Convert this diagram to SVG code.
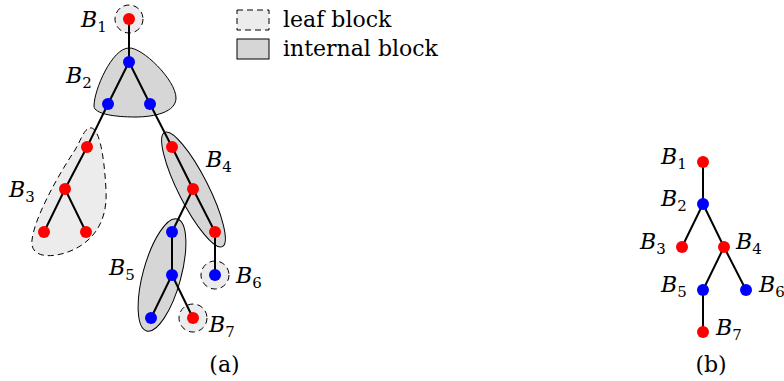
<svg xmlns="http://www.w3.org/2000/svg" width="784" height="381" viewBox="0 0 784 381">
<style>
.leaf{fill:#ececec;stroke:#000;stroke-width:1;stroke-dasharray:6,4}
.int{fill:#d6d6d6;stroke:#000;stroke-width:1}
.e{stroke:#000;stroke-width:2;fill:none}
.r{fill:#ff0000}
.b{fill:#0000ff}
text{font-family:"DejaVu Serif","Liberation Serif",serif;fill:#000}
.lab{font-style:italic;font-size:22px}
.sub{font-style:normal;font-size:15px}
.txt{font-size:22px}
</style>
<rect width="784" height="381" fill="#fff"/>
<g id="legend">
<rect class="leaf" x="237" y="10" width="32" height="20"/>
<text class="txt" x="283" y="27">leaf block</text>
<rect class="int" x="237" y="39" width="32" height="20"/>
<text class="txt" x="283" y="56">internal block</text>
</g>
<g id="blocks-a">
<circle id="blkB1" class="leaf" cx="129" cy="19" r="14"/>
<path id="blkB2" class="int" d="M 129 48 C 142 47, 176 80, 176 98 C 176 112, 155 117, 135 117 C 115 117, 94 114, 94 106 C 94 90, 112 48, 129 48 Z"/>
<path id="blkB3" class="leaf" d="M 90 128 C 98 126, 104 150, 106 190 C 108 225, 90 245, 65 253 C 45 259, 30 255, 32 240 C 34 220, 55 180, 75 150 C 82 138, 84 129, 90 128 Z"/>
<ellipse id="blkB4" class="int" cx="193.5" cy="189.5" rx="64" ry="15" transform="rotate(63.2 193.5 189.5)"/>
<ellipse id="blkB5" class="int" cx="162" cy="275" rx="58" ry="19" transform="rotate(105.3 162 275)"/>
<circle id="blkB6" class="leaf" cx="215" cy="275" r="14"/>
<circle id="blkB7" class="leaf" cx="193" cy="318" r="14"/>
</g>
<g id="connectors">
<path class="e" d="M129 19 L129 62 M129 62 L108 104 M129 62 L150 104 M108 104 L87 147 L65 189 L44 232 M65 189 L86 232 M150 104 L172 147 L193 189 L215 232 L215 275 M193 189 L172 232 L172 275 L151 318 M172 275 L193 318"/>
<path class="e" d="M703 162 L703 204 L682 247 M703 204 L724 247 L703 290 L703 332 M724 247 L746 290"/>
</g>
<g id="nodes-a">
<circle class="r" cx="129" cy="19" r="6"/>
<circle class="b" cx="129" cy="62" r="6"/>
<circle class="b" cx="108" cy="104" r="6"/>
<circle class="b" cx="150" cy="104" r="6"/>
<circle class="r" cx="87" cy="147" r="6"/>
<circle class="r" cx="65" cy="189" r="6"/>
<circle class="r" cx="44" cy="232" r="6"/>
<circle class="r" cx="86" cy="232" r="6"/>
<circle class="r" cx="172" cy="147" r="6"/>
<circle class="r" cx="193" cy="189" r="6"/>
<circle class="r" cx="215" cy="232" r="6"/>
<circle class="b" cx="215" cy="275" r="6"/>
<circle class="b" cx="172" cy="232" r="6"/>
<circle class="b" cx="172" cy="275" r="6"/>
<circle class="b" cx="151" cy="318" r="6"/>
<circle class="r" cx="193" cy="318" r="6"/>
</g>
<g id="labels-a">
<text class="lab" x="81" y="27">B<tspan class="sub" dy="5">1</tspan></text>
<text class="lab" x="66" y="83">B<tspan class="sub" dy="5">2</tspan></text>
<text class="lab" x="9" y="197">B<tspan class="sub" dy="5">3</tspan></text>
<text class="lab" x="206" y="167">B<tspan class="sub" dy="5">4</tspan></text>
<text class="lab" x="109" y="275">B<tspan class="sub" dy="5">5</tspan></text>
<text class="lab" x="236" y="283">B<tspan class="sub" dy="5">6</tspan></text>
<text class="lab" x="209" y="332">B<tspan class="sub" dy="5">7</tspan></text>
<text class="txt" x="224.5" y="372" text-anchor="middle">(a)</text>
</g>
<g id="nodes-b">
<circle id="b-B1" class="r" cx="703" cy="162" r="6"/>
<circle id="b-B2" class="b" cx="703" cy="204" r="6"/>
<circle id="b-B3" class="r" cx="682" cy="247" r="6"/>
<circle id="b-B4" class="r" cx="724" cy="247" r="6"/>
<circle id="b-B5" class="b" cx="703" cy="290" r="6"/>
<circle id="b-B6" class="b" cx="746" cy="290" r="6"/>
<circle id="b-B7" class="r" cx="703" cy="332" r="6"/>
</g>
<g id="labels-b">
<text class="lab" x="661" y="164">B<tspan class="sub" dy="5">1</tspan></text>
<text class="lab" x="661" y="206">B<tspan class="sub" dy="5">2</tspan></text>
<text class="lab" x="640" y="249">B<tspan class="sub" dy="5">3</tspan></text>
<text class="lab" x="736" y="249">B<tspan class="sub" dy="5">4</tspan></text>
<text class="lab" x="661" y="292">B<tspan class="sub" dy="5">5</tspan></text>
<text class="lab" x="759" y="292">B<tspan class="sub" dy="5">6</tspan></text>
<text class="lab" x="716" y="335">B<tspan class="sub" dy="5">7</tspan></text>
<text class="txt" x="711" y="372" text-anchor="middle">(b)</text>
</g>
</svg>
